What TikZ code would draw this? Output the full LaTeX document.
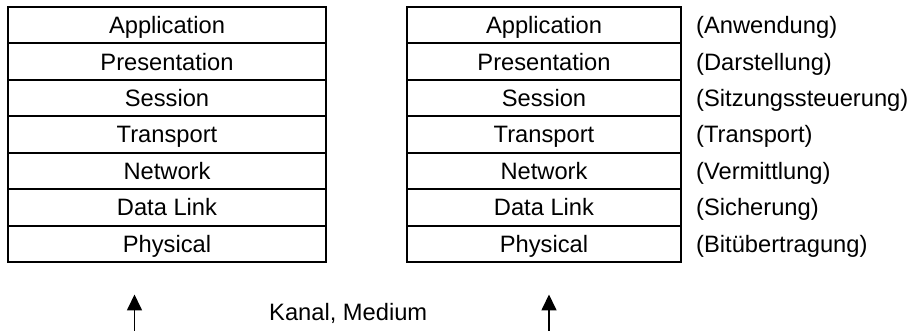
\documentclass[tikz,border=0pt]{standalone}
\usepackage{fontspec}
\setmainfont{Liberation Sans}
\usetikzlibrary{arrows.meta}
\tikzset{
  layer/.style={draw, line width=2pt, rectangle, inner sep=0pt, minimum height=36.43pt, text height=17pt, text depth=0pt, font=\fontsize{23.7}{28}\selectfont},
  leftlayer/.style={layer, minimum width=318pt},
  rightlayer/.style={layer, minimum width=274pt},
  gloss/.style={anchor=west, inner sep=0pt, text height=17pt, text depth=0pt, font=\fontsize{23.7}{28}\selectfont},
  uparrow/.style={line width=1.7pt, -{Triangle[length=16pt,width=15pt]}}
}
\begin{document}
\begin{tikzpicture}[x=1pt,y=1pt]
\useasboundingbox (0,0) rectangle (914,331);
% row centres: top at y=324 (331-7), height 36.43
\foreach \name/\txt/\gl [count=\i from 0] in {
  app/Application/(Anwendung),
  pres/Presentation/(Darstellung),
  sess/Session/(Sitzungssteuerung),
  trans/Transport/(Transport),
  net/Network/(Vermittlung),
  dl/Data Link/(Sicherung),
  phys/Physical/(Bitübertragung)} {
  \pgfmathsetmacro{\yc}{324-18.215-36.43*\i}
  \node[leftlayer] (L\name) at (167,\yc) {\txt};
  \node[rightlayer] (R\name) at (544,\yc) {\txt};
  \node[gloss] (G\name) at (696,\yc) {\gl};
}
\node[anchor=base west, inner sep=0pt, font=\fontsize{23.7}{28}\selectfont] (kanal) at (269,10.3) {Kanal, Medium};
\coordinate (s1) at (134.5,0);
\coordinate (t1) at (134.5,36.5);
\coordinate (s2) at (549,0);
\coordinate (t2) at (549,36.5);
\draw[uparrow] (s1) -- (t1);
\draw[uparrow] (s2) -- (t2);
\end{tikzpicture}
\end{document}
